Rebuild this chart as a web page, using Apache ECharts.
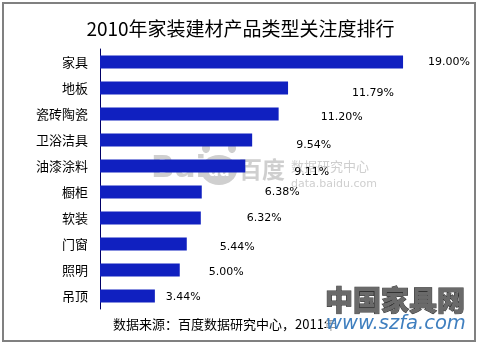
<!DOCTYPE html>
<html>
<head>
<meta charset="utf-8">
<script src="https://cdn.jsdelivr.net/npm/echarts@6/dist/echarts.min.js"></script>
<style>
  html, body { margin: 0; padding: 0; background: #fff; }
  #chart { width: 481px; height: 346px; }
</style>
</head>
<body>
<div id="chart"></div>
<script>
// 2010 home-improvement material categories, share of search attention (%)
var categories = ['家具', '地板', '瓷砖陶瓷', '卫浴洁具', '油漆涂料', '橱柜', '软装', '门窗', '照明', '吊顶'];
var attention = [19.00, 11.79, 11.20, 9.54, 9.11, 6.38, 6.32, 5.44, 5.00, 3.44];

var titleText = '2010年家装建材产品类型关注度排行';
var sourceText = '数据来源：百度数据研究中心，2011年';

// per-bar value label nudges [dx, dy] from the bar end
var labelNudge = [[25, 0], [64, 5.5], [42, 3.5], [44, 5.5], [49, 6], [63, 0], [46, 0], [33, 3.5], [29, 2], [11, 1]];

var CJK = '"Noto Sans CJK SC", "Noto Sans", sans-serif';
var WM = '#cfcfcf';

var chart = echarts.init(document.getElementById('chart'), null, { renderer: 'canvas' });

var barData = attention.map(function (v, i) {
  return { value: v, label: { offset: labelNudge[i] } };
});

chart.setOption({
  backgroundColor: '#ffffff',
  animation: false,
  title: {
    text: titleText,
    left: 'center',
    top: 14,
    textStyle: { fontFamily: CJK, fontSize: 19, fontWeight: 'normal', color: '#000' }
  },
  grid: { left: 100, top: 49, width: 319, height: 260, containLabel: false },
  xAxis: { type: 'value', min: 0, max: 20, show: false },
  yAxis: {
    type: 'category',
    data: categories,
    inverse: true,
    axisLine: { show: true, lineStyle: { color: '#000066', width: 1 } },
    axisTick: { show: false },
    axisLabel: { margin: 12, fontFamily: CJK, fontSize: 13, color: '#000' },
    splitLine: { show: false }
  },
  series: [{
    type: 'bar',
    data: barData,
    barWidth: '50%',
    itemStyle: { color: '#1020c0' },
    z: 5,
    label: {
      show: true,
      position: 'right',
      distance: 0,
      fontFamily: '"DejaVu Sans", sans-serif',
      fontSize: 11,
      color: '#000',
      formatter: function (p) { return p.value.toFixed(2) + '%'; }
    }
  }],
  graphic: [
    // outer frame
    { type: 'rect', z: 0, shape: { x: 3, y: 3, width: 472, height: 338 },
      style: { fill: 'none', stroke: '#808080', lineWidth: 2 } },
    // Baidu data watermark behind the bars
    { type: 'text', z: 0, style: { text: 'Bai', x: 151, y: 169, fill: WM, fontFamily: '"DejaVu Sans", sans-serif', fontSize: 31, fontWeight: 'bold', verticalAlign: 'middle' } },
    { type: 'ellipse', z: 0, shape: { cx: 206, cy: 148, rx: 4, ry: 5 }, style: { fill: WM } },
    { type: 'ellipse', z: 0, shape: { cx: 213, cy: 140, rx: 4, ry: 5 }, style: { fill: WM } },
    { type: 'ellipse', z: 0, shape: { cx: 224, cy: 140, rx: 4, ry: 5 }, style: { fill: WM } },
    { type: 'ellipse', z: 0, shape: { cx: 232, cy: 148, rx: 4, ry: 5 }, style: { fill: WM } },
    { type: 'ellipse', z: 0, shape: { cx: 219, cy: 170, rx: 18, ry: 15 }, style: { fill: WM } },
    { type: 'text', z: 0, style: { text: 'du', x: 219, y: 172, fill: '#ffffff', fontFamily: '"DejaVu Sans", sans-serif', fontSize: 15, fontWeight: 'bold', align: 'center', verticalAlign: 'middle' } },
    { type: 'text', z: 0, style: { text: '百度', x: 239, y: 169, fill: WM, fontFamily: CJK, fontSize: 23, fontWeight: 'bold', verticalAlign: 'middle' } },
    { type: 'text', z: 0, style: { text: '数据研究中心', x: 291, y: 166, fill: WM, fontFamily: CJK, fontSize: 13, verticalAlign: 'middle' } },
    { type: 'text', z: 0, style: { text: 'data.baidu.com', x: 291, y: 184, fill: WM, fontFamily: '"DejaVu Sans", sans-serif', fontSize: 11, verticalAlign: 'middle' } },
    // source note
    { type: 'text', z: 10, style: { text: sourceText, x: 113, y: 324, fill: '#000', fontFamily: CJK, fontSize: 13, verticalAlign: 'middle' } },
    // site watermark, bottom right
    { type: 'text', z: 20, style: { text: '中国家具网', x: 325, y: 300, fill: '#6a6a6a', stroke: '#333333', lineWidth: 1, fontFamily: CJK, fontSize: 28, fontWeight: 900, verticalAlign: 'middle' } },
    { type: 'text', z: 20, style: { text: 'www.szfa.com', x: 326, y: 324, fill: '#3f7fbf', fontFamily: '"DejaVu Sans", sans-serif', fontSize: 19.5, fontStyle: 'italic', verticalAlign: 'middle', backgroundColor: 'rgba(255,255,255,0.6)' } }
  ]
});
</script>
</body>
</html>
